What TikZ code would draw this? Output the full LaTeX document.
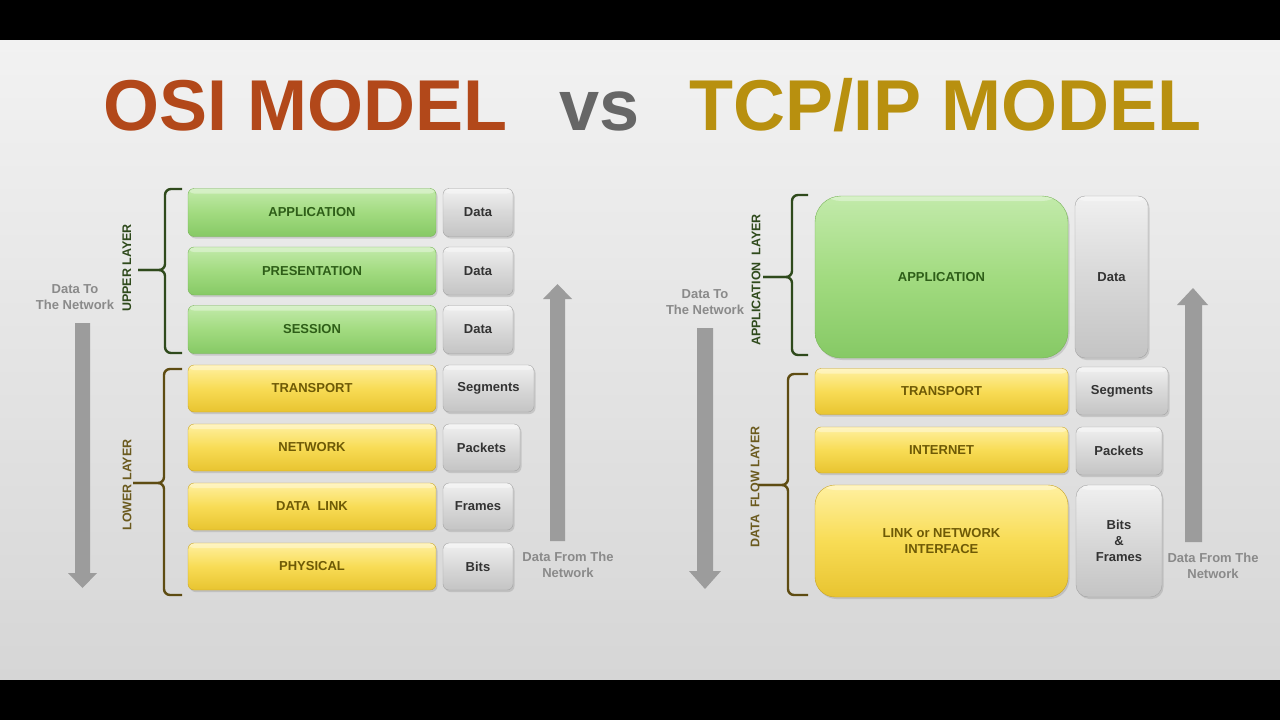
\documentclass[tikz,border=0pt]{standalone}
\usepackage{fontspec}
\setmainfont{Liberation Sans}
\usetikzlibrary{shadows}
\definecolor{bgtop}{HTML}{F2F2F2}
\definecolor{bgbot}{HTML}{D6D6D6}
\definecolor{osicol}{HTML}{B2481A}
\definecolor{vscol}{HTML}{666666}
\definecolor{tcpcol}{HTML}{B8900F}
\definecolor{grtop}{HTML}{C2EAAA}
\definecolor{grmid}{HTML}{A2DB80}
\definecolor{grbot}{HTML}{86C965}
\definecolor{grdraw}{HTML}{78B458}
\definecolor{grtext}{HTML}{2E5E18}
\definecolor{yetop}{HTML}{FFF0A0}
\definecolor{yemid}{HTML}{F8DC55}
\definecolor{yebot}{HTML}{E8C430}
\definecolor{yedraw}{HTML}{C9A52A}
\definecolor{yetext}{HTML}{6E5A06}
\definecolor{gytop}{HTML}{F0F0F0}
\definecolor{gymid}{HTML}{D8D8D8}
\definecolor{gybot}{HTML}{C4C4C4}
\definecolor{gydraw}{HTML}{A4A4A4}
\definecolor{gytext}{HTML}{333333}
\definecolor{arrcol}{HTML}{9C9C9C}
\definecolor{notecol}{HTML}{8A8A8A}
\definecolor{brgreen}{HTML}{2F4A1C}
\definecolor{brolive}{HTML}{5E4C12}
\definecolor{lbolive}{HTML}{6B5A1E}
\begin{document}
\begin{tikzpicture}[x=1pt,y=-1pt,
  box/.style={rounded corners=6pt, inner sep=0pt, align=center,
    font=\bfseries\fontsize{13}{16}\selectfont,
    drop shadow={shadow xshift=1.5pt,shadow yshift=-2pt,opacity=0.28},
    path picture={\fill[white,opacity=0.35] (path picture bounding box.north west) rectangle ([yshift=-5pt]path picture bounding box.north east);}},
  sz/.style 2 args={minimum width=#1pt, minimum height=#2pt},
  gbox/.style={box, top color=grtop, bottom color=grbot, middle color=grmid, draw=grdraw, text=grtext},
  ybox/.style={box, top color=yetop, bottom color=yebot, middle color=yemid, draw=yedraw, text=yetext},
  dbox/.style={box, top color=gytop, bottom color=gybot, middle color=gymid, draw=gydraw, text=gytext},
  title/.style={inner sep=0pt, anchor=base west, font=\bfseries\fontsize{72}{80}\selectfont},
  note/.style={inner sep=0pt, align=center, text=notecol, font=\bfseries\fontsize{13}{16}\selectfont},
  layerlabel/.style={inner sep=0pt, rotate=90, font=\bfseries\fontsize{12.5}{15}\selectfont},
  bracket/.style={line width=2.4pt, rounded corners=6pt},
  bigarrow/.style={fill=arrcol}
]
\useasboundingbox (0,0) rectangle (1280,720);
\shade[top color=bgtop,bottom color=bgbot] (0,40) rectangle (1280,680);
\fill[black] (0,0) rectangle (1280,40);
\fill[black] (0,680) rectangle (1280,720);

% titles
\node[title, text=osicol] (tosi) at (103,130) {OSI MODEL};
\node[title, text=vscol] (tvs) at (559,130) {vs};
\node[title, text=tcpcol] (ttcp) at (689,130) {TCP/IP MODEL};

% ---------- OSI ----------
\node[gbox, sz={248}{48}] (oapp) at (312,212.5) {APPLICATION};
\node[gbox, sz={248}{48}] (opre) at (312,271) {PRESENTATION};
\node[gbox, sz={248}{48}] (oses) at (312,329.5) {SESSION};
\node[ybox, sz={248}{47}] (otra) at (312,388.5) {TRANSPORT};
\node[ybox, sz={248}{47}] (onet) at (312,447.5) {NETWORK};
\node[ybox, sz={248}{47}] (odl)  at (312,506.5) {DATA\ \ LINK};
\node[ybox, sz={248}{47}] (ophy) at (312,566.5) {PHYSICAL};

\node[dbox, sz={70}{48}] (od1) at (478,212.5) {Data};
\node[dbox, sz={70}{48}] (od2) at (478,271) {Data};
\node[dbox, sz={70}{48}] (od3) at (478,329.5) {Data};
\node[dbox, sz={91}{47}] (oseg) at (488.5,388.5) {Segments};
\node[dbox, sz={77}{47}] (opac) at (481.5,447.5) {Packets};
\node[dbox, sz={70}{47}] (ofra) at (478,506.5) {Frames};
\node[dbox, sz={70}{47}] (obit) at (478,566.5) {Bits};

% brackets OSI
\draw[bracket, brgreen] (182,189) -- (165,189) -- (165,270) -- (138,270);
\draw[bracket, brgreen] (182,353) -- (165,353) -- (165,270) -- (138,270);
\draw[bracket, brolive] (182,369) -- (164,369) -- (164,483) -- (133,483);
\draw[bracket, brolive] (182,595) -- (164,595) -- (164,483) -- (133,483);
\node[layerlabel, text=brgreen] (lup) at (127,268) {UPPER LAYER};
\node[layerlabel, text=lbolive] (llow) at (127,485) {LOWER LAYER};

% arrows OSI
\fill[bigarrow] (75,323) -- (90,323) -- (90,573) -- (97,573) -- (82.5,588) -- (68,573) -- (75,573) -- cycle;
\fill[bigarrow] (550,541) -- (565,541) -- (565,299) -- (572,299) -- (557.5,284) -- (543,299) -- (550,299) -- cycle;
\node[note] (onote1) at (75,297) {Data To\\The Network};
\node[note] (onote2) at (568,565) {Data From The\\Network};

% ---------- TCP/IP ----------
\node[gbox, sz={253}{162}, rounded corners=26pt] (tapp) at (941.5,277) {APPLICATION};
\node[dbox, sz={73}{162}, rounded corners=10pt] (tdat) at (1111.5,277) {Data};
\node[ybox, sz={253}{46}] (ttra) at (941.5,391.5) {TRANSPORT};
\node[ybox, sz={253}{46}] (tint) at (941.5,450) {INTERNET};
\node[ybox, sz={253}{112}, rounded corners=20pt] (tlnk) at (941.5,541) {LINK or NETWORK\\INTERFACE};
\node[dbox, sz={92}{48}] (tseg) at (1122,391) {Segments};
\node[dbox, sz={86}{48}] (tpac) at (1119,451) {Packets};
\node[dbox, sz={86}{112}, rounded corners=12pt] (tbf) at (1119,541) {Bits\\\&\\Frames};

% brackets TCP
\draw[bracket, brgreen] (808,195) -- (792,195) -- (792,277) -- (763,277);
\draw[bracket, brgreen] (808,355) -- (792,355) -- (792,277) -- (763,277);
\draw[bracket, brolive] (808,374) -- (788,374) -- (788,485) -- (758,485);
\draw[bracket, brolive] (808,595) -- (788,595) -- (788,485) -- (758,485);
\node[layerlabel, text=brgreen] (lapp) at (756,280) {APPLICATION\ \ LAYER};
\node[layerlabel, text=lbolive] (ldf) at (755,487) {DATA\ \ FLOW LAYER};

% arrows TCP
\fill[bigarrow] (697,328) -- (713,328) -- (713,571) -- (721,571) -- (705,589) -- (689,571) -- (697,571) -- cycle;
\fill[bigarrow] (1185,542) -- (1202,542) -- (1202,305) -- (1208,305) -- (1193,288) -- (1177,305) -- (1185,305) -- cycle;
\node[note] (tnote1) at (705,302) {Data To\\The Network};
\node[note] (tnote2) at (1213,566) {Data From The\\Network};
\end{tikzpicture}
\end{document}
